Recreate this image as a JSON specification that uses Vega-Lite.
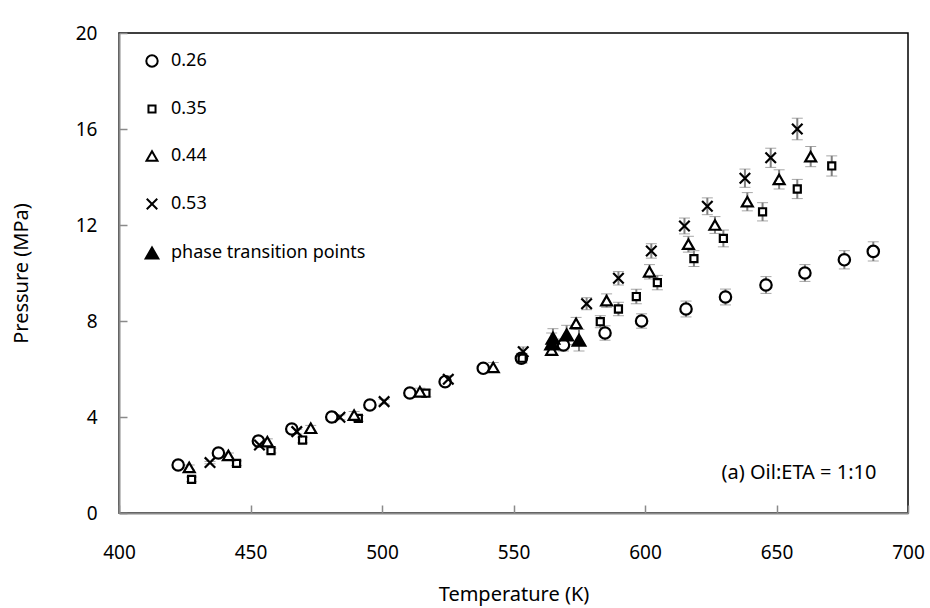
{
  "$schema": "https://vega.github.io/schema/vega-lite/v6.json",
  "width": 789,
  "height": 480,
  "autosize": "none",
  "padding": {"left": 119, "top": 33, "right": 22, "bottom": 95},
  "background": "white",
  "config": {
    "font": "Noto Sans",
    "view": {"stroke": "#000000", "strokeWidth": 1.5},
    "axis": {
      "grid": false,
      "domainColor": "#8a8a8a",
      "domainWidth": 2,
      "tickColor": "#8a8a8a",
      "tickWidth": 1.5,
      "tickSize": -8,
      "labelFont": "Noto Sans",
      "titleFont": "Noto Sans",
      "labelFontSize": 19,
      "titleFontSize": 20,
      "labelColor": "#000000",
      "titleColor": "#000000",
      "labelFontWeight": "normal",
      "titleFontWeight": "normal",
      "labelFlush": false
    }
  },
  "datasets": {
    "pts": [
      {"s": "0.26", "T": 422.5, "P": 2.0, "e": 0.08},
      {"s": "0.26", "T": 437.8, "P": 2.5, "e": 0.08},
      {"s": "0.26", "T": 453.0, "P": 3.0, "e": 0.1},
      {"s": "0.26", "T": 465.7, "P": 3.5, "e": 0.1},
      {"s": "0.26", "T": 480.9, "P": 4.0, "e": 0.1},
      {"s": "0.26", "T": 495.4, "P": 4.5, "e": 0.1},
      {"s": "0.26", "T": 510.6, "P": 5.0, "e": 0.12},
      {"s": "0.26", "T": 524.0, "P": 5.47, "e": 0.15},
      {"s": "0.26", "T": 538.5, "P": 6.03, "e": 0.15},
      {"s": "0.26", "T": 553.0, "P": 6.45, "e": 0.2},
      {"s": "0.26", "T": 569.0, "P": 7.0, "e": 0.25},
      {"s": "0.26", "T": 584.8, "P": 7.5, "e": 0.3},
      {"s": "0.26", "T": 598.7, "P": 8.0, "e": 0.3},
      {"s": "0.26", "T": 615.6, "P": 8.5, "e": 0.33},
      {"s": "0.26", "T": 630.6, "P": 9.0, "e": 0.33},
      {"s": "0.26", "T": 646.0, "P": 9.5, "e": 0.35},
      {"s": "0.26", "T": 660.8, "P": 10.0, "e": 0.35},
      {"s": "0.26", "T": 675.8, "P": 10.55, "e": 0.38},
      {"s": "0.26", "T": 686.8, "P": 10.9, "e": 0.4},
      {"s": "0.35", "T": 427.6, "P": 1.4, "e": 0.1},
      {"s": "0.35", "T": 444.7, "P": 2.07, "e": 0.1},
      {"s": "0.35", "T": 457.8, "P": 2.6, "e": 0.1},
      {"s": "0.35", "T": 469.8, "P": 3.04, "e": 0.12},
      {"s": "0.35", "T": 491.0, "P": 3.94, "e": 0.12},
      {"s": "0.35", "T": 516.7, "P": 4.99, "e": 0.15},
      {"s": "0.35", "T": 553.3, "P": 6.45, "e": 0.2},
      {"s": "0.35", "T": 583.0, "P": 7.97, "e": 0.25},
      {"s": "0.35", "T": 589.9, "P": 8.5, "e": 0.28},
      {"s": "0.35", "T": 596.7, "P": 9.02, "e": 0.3},
      {"s": "0.35", "T": 604.7, "P": 9.6, "e": 0.3},
      {"s": "0.35", "T": 618.6, "P": 10.6, "e": 0.33},
      {"s": "0.35", "T": 629.8, "P": 11.44, "e": 0.35},
      {"s": "0.35", "T": 644.7, "P": 12.55, "e": 0.38},
      {"s": "0.35", "T": 657.9, "P": 13.5, "e": 0.4},
      {"s": "0.35", "T": 671.0, "P": 14.46, "e": 0.42},
      {"s": "0.44", "T": 426.7, "P": 1.9, "e": 0.1},
      {"s": "0.44", "T": 441.6, "P": 2.4, "e": 0.1},
      {"s": "0.44", "T": 456.4, "P": 2.97, "e": 0.12},
      {"s": "0.44", "T": 472.9, "P": 3.53, "e": 0.12},
      {"s": "0.44", "T": 489.4, "P": 4.08, "e": 0.15},
      {"s": "0.44", "T": 514.4, "P": 5.05, "e": 0.15},
      {"s": "0.44", "T": 542.3, "P": 6.07, "e": 0.2},
      {"s": "0.44", "T": 564.5, "P": 6.79, "e": 0.22},
      {"s": "0.44", "T": 573.8, "P": 7.9, "e": 0.25},
      {"s": "0.44", "T": 585.4, "P": 8.85, "e": 0.28},
      {"s": "0.44", "T": 601.7, "P": 10.05, "e": 0.3},
      {"s": "0.44", "T": 616.5, "P": 11.2, "e": 0.33},
      {"s": "0.44", "T": 626.6, "P": 12.0, "e": 0.35},
      {"s": "0.44", "T": 638.9, "P": 12.97, "e": 0.38},
      {"s": "0.44", "T": 651.0, "P": 13.9, "e": 0.4},
      {"s": "0.44", "T": 663.0, "P": 14.85, "e": 0.42},
      {"s": "0.53", "T": 434.6, "P": 2.1, "e": 0.05},
      {"s": "0.53", "T": 453.4, "P": 2.83, "e": 0.08},
      {"s": "0.53", "T": 467.6, "P": 3.39, "e": 0.1},
      {"s": "0.53", "T": 484.0, "P": 3.99, "e": 0.1},
      {"s": "0.53", "T": 500.8, "P": 4.64, "e": 0.1},
      {"s": "0.53", "T": 525.2, "P": 5.57, "e": 0.15},
      {"s": "0.53", "T": 553.7, "P": 6.72, "e": 0.2},
      {"s": "0.53", "T": 577.8, "P": 8.72, "e": 0.25},
      {"s": "0.53", "T": 589.9, "P": 9.78, "e": 0.28},
      {"s": "0.53", "T": 602.4, "P": 10.92, "e": 0.3},
      {"s": "0.53", "T": 615.0, "P": 11.96, "e": 0.33},
      {"s": "0.53", "T": 623.7, "P": 12.78, "e": 0.35},
      {"s": "0.53", "T": 638.0, "P": 13.95, "e": 0.38},
      {"s": "0.53", "T": 647.8, "P": 14.8, "e": 0.4},
      {"s": "0.53", "T": 657.9, "P": 16.0, "e": 0.45},
      {"s": "phase transition points", "T": 564.5, "P": 7.05, "e": 0.45},
      {"s": "phase transition points", "T": 565.0, "P": 7.28, "e": 0.4},
      {"s": "phase transition points", "T": 570.2, "P": 7.42, "e": 0.4},
      {"s": "phase transition points", "T": 574.9, "P": 7.2, "e": 0.45}
    ],
    "note": [
      {"T": 688, "P": 1.65, "label": "(a) Oil:ETA = 1:10"}
    ]
  },
  "layer": [
    {
      "data": {"name": "pts"},
      "mark": {
        "type": "errorbar",
        "ticks": {"size": 11, "color": "#808080", "strokeWidth": 2},
        "rule": {"color": "#808080", "strokeWidth": 2}
      },
      "encoding": {
        "x": {"field": "T", "type": "quantitative", "scale": {"domain": [400, 700], "nice": false},
              "axis": {"title": "Temperature (K)", "values": [400, 450, 500, 550, 600, 650, 700], "labelPadding": 38, "titleY": 81, "titleBaseline": "middle"}},
        "y": {"field": "P", "type": "quantitative", "scale": {"domain": [0, 20], "nice": false},
              "axis": {"title": "Pressure (MPa)", "values": [0, 4, 8, 12, 16, 20], "labelPadding": 30, "titleX": -98, "titleBaseline": "middle"}},
        "yError": {"field": "e"}
      }
    },
    {
      "data": {"name": "pts"},
      "mark": {"type": "point", "stroke": "#000000", "strokeWidth": 2.2, "opacity": 1},
      "encoding": {
        "x": {"field": "T", "type": "quantitative"},
        "y": {"field": "P", "type": "quantitative"},
        "shape": {
          "field": "s", "type": "nominal",
          "scale": {"domain": ["0.26", "0.35", "0.44", "0.53", "phase transition points"],
                    "range": ["circle", "square", "triangle-up", "M-1,-1L1,1M-1,1L1,-1", "triangle-up"]},
          "legend": {
            "title": null,
            "orient": "none",
            "legendX": 24,
            "legendY": 19,
            "rowPadding": 29,
            "labelFontSize": 18,
            "labelFont": "Noto Sans",
            "labelColor": "#000000",
            "labelOffset": 10,
            "labelLimit": 400,
            "symbolStrokeColor": "#000000",
            "symbolStrokeWidth": 2
          }
        },
        "fill": {
          "field": "s", "type": "nominal",
          "scale": {"domain": ["0.26", "0.35", "0.44", "0.53", "phase transition points"],
                    "range": ["#ffffff", "#ffffff", "#ffffff", "#ffffff", "#000000"]}
        },
        "size": {
          "field": "s", "type": "nominal",
          "scale": {"type": "ordinal", "domain": ["0.26", "0.35", "0.44", "0.53", "phase transition points"],
                    "range": [130, 50, 120, 110, 160]}
        }
      }
    },
    {
      "data": {"name": "note"},
      "mark": {"type": "text", "align": "right", "baseline": "middle", "fontSize": 20, "font": "Noto Sans", "color": "#000000"},
      "encoding": {
        "x": {"field": "T", "type": "quantitative"},
        "y": {"field": "P", "type": "quantitative"},
        "text": {"field": "label"}
      }
    }
  ]
}
